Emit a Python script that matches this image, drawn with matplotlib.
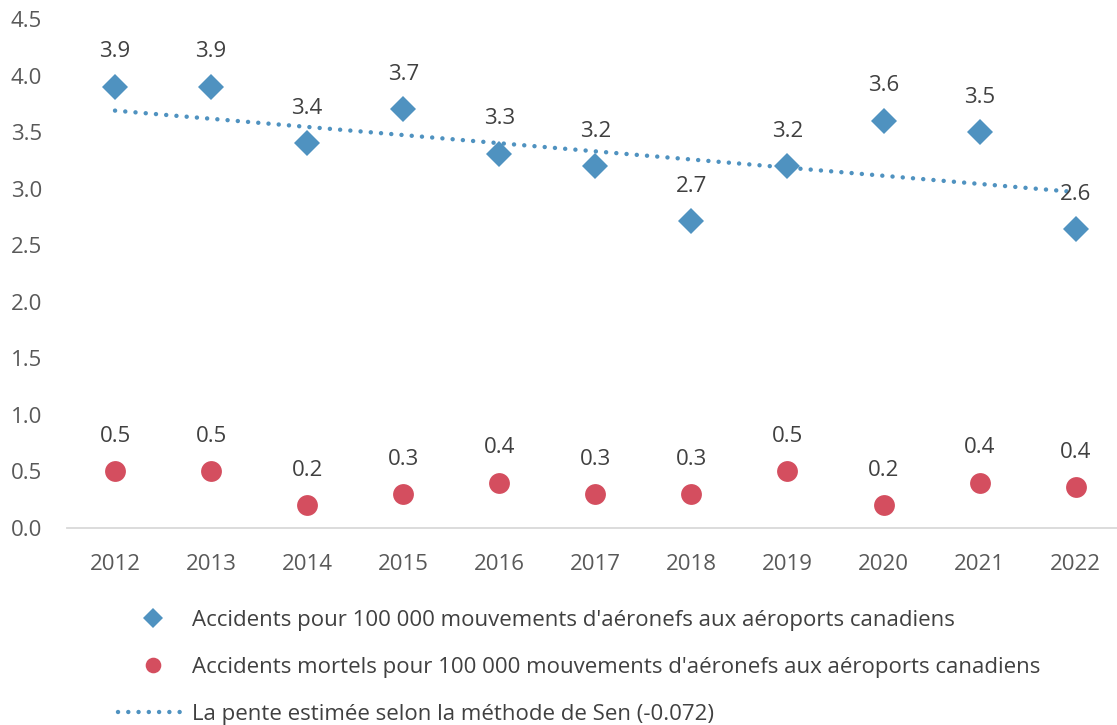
"""Accidents per 100 000 aircraft movements at Canadian airports, 2012-2022."""
import matplotlib
matplotlib.use("Agg")
import matplotlib.pyplot as plt
import numpy as np

years = ["2012", "2013", "2014", "2015", "2016", "2017", "2018", "2019", "2020", "2021", "2022"]
accidents = [3.9, 3.9, 3.4, 3.7, 3.31, 3.2, 2.71, 3.2, 3.6, 3.5, 2.64]
fatal = [0.5, 0.5, 0.2, 0.3, 0.4, 0.3, 0.3, 0.5, 0.2, 0.4, 0.36]
sen_slope = -0.072
sen_start = 3.69  # estimated trend value at 2012

label_acc = "Accidents pour 100 000 mouvements d'aéronefs aux aéroports canadiens"
label_fatal = "Accidents mortels pour 100 000 mouvements d'aéronefs aux aéroports canadiens"
label_sen = "La pente estimée selon la méthode de Sen (-0.072)"

BLUE = "#4F92C0"
RED = "#D44E5F"
TEXT = "#404040"
TICK = "#595959"
FS = 16

plt.rcParams["font.family"] = ["Open Sans", "DejaVu Sans"]

fig = plt.figure(figsize=(11.17, 7.25), dpi=100)
ax = fig.add_axes([67 / 1117, 197 / 725, 1 - 67 / 1117, 509 / 725])

x = np.arange(len(years))
trend = sen_start + sen_slope * x

ax.plot(x, trend, color=BLUE, lw=3.2, linestyle=(0, (0.01, 2.3)),
        dash_capstyle="round", label=label_sen, zorder=2)
ax.plot(x, accidents, "D", color=BLUE, ms=13, mew=0, label=label_acc, zorder=3)
ax.plot(x, fatal, "o", color=RED, ms=15, mew=0, label=label_fatal, zorder=3)

for xi, v in zip(x, accidents):
    ax.annotate(f"{v:.1f}", (xi, v), xytext=(0, 35), textcoords="offset pixels",
                ha="center", va="center", fontsize=FS, color=TEXT)
for xi, v in zip(x, fatal):
    ax.annotate(f"{v:.1f}", (xi, v), xytext=(0, 35), textcoords="offset pixels",
                ha="center", va="center", fontsize=FS, color=TEXT)

ax.set_xlim(-0.5, 10.43)
ax.set_ylim(0, 4.5)
ax.set_xticks(x)
ax.set_xticklabels(years)
ax.set_yticks(np.arange(0, 4.51, 0.5))
ax.set_yticklabels([f"{t:.1f}" for t in np.arange(0, 4.51, 0.5)])
ax.tick_params(axis="both", length=0, labelsize=FS, colors=TICK)
ax.tick_params(axis="x", pad=19)
ax.tick_params(axis="y", pad=18)
for s in ["top", "right", "left"]:
    ax.spines[s].set_visible(False)
ax.spines["bottom"].set_color("#D9D9D9")
ax.spines["bottom"].set_linewidth(1.3)

handles, labels = ax.get_legend_handles_labels()
order = [1, 2, 0]
leg = fig.legend([handles[i] for i in order], [labels[i] for i in order],
                 loc="upper left", bbox_to_anchor=(98 / 1117, 1 - 590 / 725),
                 frameon=False, fontsize=FS, handlelength=3.15, handletextpad=0.2,
                 labelspacing=1.17, markerscale=0.75, labelcolor=TEXT)

fig.savefig("out.png", dpi=100)
